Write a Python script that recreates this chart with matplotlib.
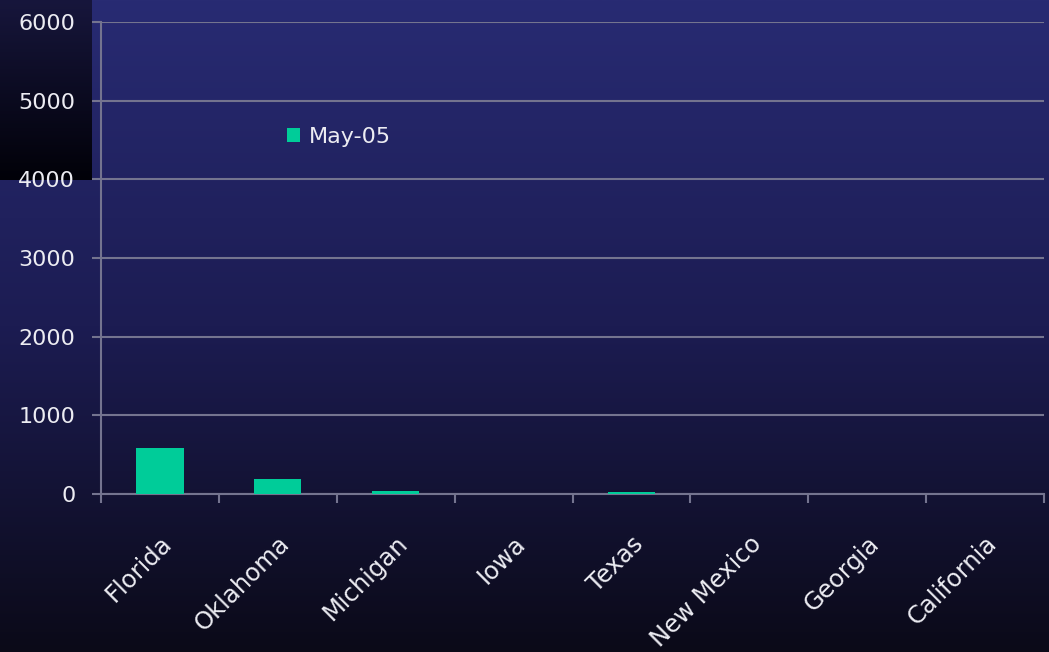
import numpy as np
import matplotlib
matplotlib.use('Agg')
import matplotlib.pyplot as plt
from matplotlib.colors import LinearSegmentedColormap

states = ['Florida', 'Oklahoma', 'Michigan', 'Iowa', 'Texas', 'New Mexico', 'Georgia', 'California']
may_05 = [587, 196, 43, 0, 21, 0, 0, 0]
y_ticks = [0, 1000, 2000, 3000, 4000, 5000, 6000]

W, H = 1049, 652
fig = plt.figure(figsize=(W / 100, H / 100), dpi=100)

# background gradient
bg = fig.add_axes([0, 0, 1, 1], zorder=-10)
grad = np.linspace(0, 1, 256).reshape(-1, 1)
cmap_bg = LinearSegmentedColormap.from_list('bg', ['#282b73', '#1c1c52', '#0b0a18'])
bg.imshow(grad, aspect='auto', cmap=cmap_bg, extent=[0, 1, 0, 1], origin='upper')
# dark block top-left
cmap_blk = LinearSegmentedColormap.from_list('blk', ['#17163c', '#010108'])
bg.imshow(grad, aspect='auto', cmap=cmap_blk, origin='upper',
          extent=[0, 92 / W, 1 - 180 / H, 1])
bg.set_xlim(0, 1)
bg.set_ylim(0, 1)
bg.axis('off')

ax = fig.add_axes([101 / W, (H - 494) / H, (1044 - 101) / W, (494 - 22) / H])
ax.patch.set_alpha(0)

x = np.arange(len(states)) + 0.5
bars = ax.bar(x, may_05, width=0.4, color='#00cc99', label='May-05', zorder=3)

ax.set_xlim(0, len(states))
ax.set_ylim(0, 6000)
ax.set_yticks(y_ticks)
line_c = '#74748f'
ax.grid(axis='y', color=line_c, linewidth=1.5, zorder=0)

for s in ['top', 'right']:
    ax.spines[s].set_visible(False)
for s in ['left', 'bottom']:
    ax.spines[s].set_color(line_c)
    ax.spines[s].set_linewidth(1.5)

ax.tick_params(axis='y', colors=line_c, labelcolor='#ececf2', labelsize=16,
               length=6.5, width=1.5, pad=12)
ax.set_xticks(np.arange(len(states) + 1), minor=True)
ax.tick_params(axis='x', which='minor', colors=line_c, length=6.5, width=1.5)
ax.set_xticks(x)
ax.set_xticklabels(states, rotation=45, ha='right', va='top', rotation_mode='anchor')
ax.tick_params(axis='x', which='major', length=0, labelcolor='#ececf2', labelsize=17.5, pad=27)

leg = ax.legend(handles=[bars], loc='center left', frameon=False,
                bbox_to_anchor=(267 / W, 1 - 137 / H), bbox_transform=fig.transFigure,
                handlelength=0.6, handleheight=0.6, handletextpad=0.4, fontsize=16,
                labelcolor='#ececf2')

fig.savefig('out.png', dpi=100)
